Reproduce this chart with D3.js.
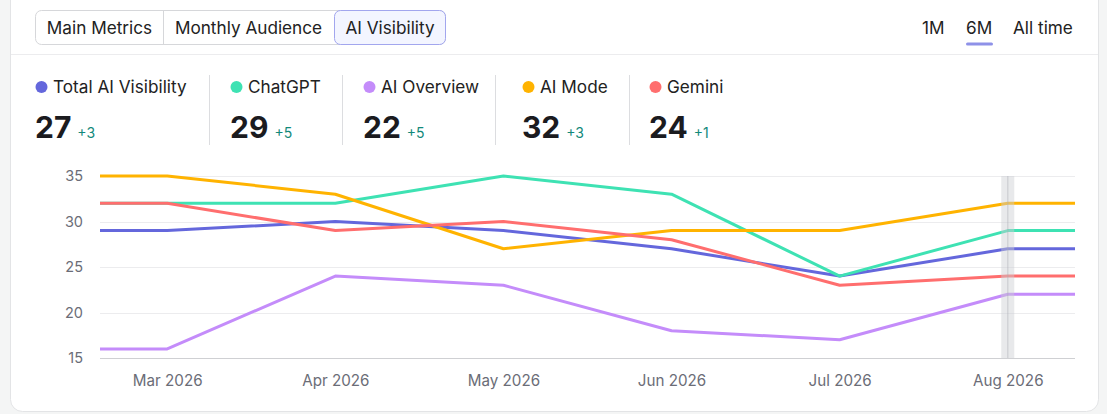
<!DOCTYPE html>
<html>
<head>
<meta charset="utf-8">
<script src="https://cdn.jsdelivr.net/npm/d3@7"></script>
<style>
  html, body { margin: 0; padding: 0; background: #f4f5f5; }
  svg { display: block; font-family: Inter, "Noto Sans", sans-serif; }
</style>
</head>
<body>
<svg id="chart" width="1107" height="414"></svg>
<script>
// ---- data ----
const tabs = ["Main Metrics", "Monthly Audience", "AI Visibility"];
const ranges = ["1M", "6M", "All time"];
const months = ["Mar 2026", "Apr 2026", "May 2026", "Jun 2026", "Jul 2026", "Aug 2026"];
const seriesNames = ["Total AI Visibility", "ChatGPT", "AI Overview", "AI Mode", "Gemini"];
const seriesColors = ["#6467dc", "#3ee2b3", "#c48cfa", "#ffb300", "#ff6e6e"];
const totalVis = [29, 30, 29, 27, 24, 27];
const chatgpt = [32, 32, 35, 33, 24, 29];
const aiOverview = [16, 24, 23, 18, 17, 22];
const aiMode = [35, 33, 27, 29, 29, 32];
const gemini = [32, 29, 30, 28, 23, 24];
const currentValues = [27, 29, 22, 32, 24];
const deltas = ["+3", "+5", "+5", "+3", "+1"];
const yTicks = [15, 20, 25, 30, 35];

const seriesValues = [totalVis, chatgpt, aiOverview, aiMode, gemini];

const svg = d3.select("#chart");

// card
svg.append("rect").attr("x", 10.5).attr("y", -12).attr("width", 1088).attr("height", 423.5)
  .attr("rx", 12).attr("fill", "#fff").attr("stroke", "#e3e4e6");

// header separator
svg.append("line").attr("x1", 11).attr("x2", 1098).attr("y1", 54.5).attr("y2", 54.5)
  .attr("stroke", "#ececee");

// segmented tabs
const tabEdges = [36, 163, 334, 446];
const tabG = svg.append("g");
tabG.append("rect").attr("x", 35.5).attr("y", 10.5).attr("width", 410).attr("height", 34)
  .attr("rx", 6).attr("fill", "#fff").attr("stroke", "#d6d7da");
tabG.append("rect").attr("x", 334.5).attr("y", 10.5).attr("width", 111).attr("height", 34)
  .attr("rx", 6).attr("fill", "#f3f5ff").attr("stroke", "#a2a6ee");
tabG.append("line").attr("x1", 163.5).attr("x2", 163.5).attr("y1", 11).attr("y2", 44).attr("stroke", "#d6d7da");
tabs.forEach((t, i) => {
  tabG.append("text").attr("x", (tabEdges[i] + tabEdges[i + 1]) / 2).attr("y", 33.5)
    .attr("text-anchor", "middle").attr("font-size", 17.2).attr("fill", "#222").text(t);
});

// range selector
const rangeX = [922, 966, 1013];
ranges.forEach((r, i) => {
  svg.append("text").attr("x", rangeX[i]).attr("y", 33.5).attr("font-size", 17.2)
    .attr("fill", "#222").text(r);
});
svg.append("rect").attr("x", 966).attr("y", 42.5).attr("width", 27).attr("height", 3)
  .attr("rx", 1.5).attr("fill", "#8e91e8");

// legend
const legX = [35, 230, 363, 522, 649];
const sepX = [209.5, 342.5, 495.5, 629.5];
sepX.forEach(x => svg.append("line").attr("x1", x).attr("x2", x).attr("y1", 75).attr("y2", 145)
  .attr("stroke", "#dcdde0"));
seriesNames.forEach((n, i) => {
  const g = svg.append("g").attr("transform", `translate(${legX[i]},0)`);
  g.append("circle").attr("cx", 6.5).attr("cy", 87).attr("r", 6).attr("fill", seriesColors[i]);
  g.append("text").attr("x", 18).attr("y", 93).attr("font-size", 17.2).attr("fill", "#222").text(n);
  const v = g.append("text").attr("x", 0).attr("y", 137.5).attr("font-size", 30)
    .attr("font-weight", 700).attr("fill", "#1b1b1f").text(currentValues[i]);
  const w = v.node().getComputedTextLength();
  g.append("text").attr("x", w + 6).attr("y", 137.5).attr("font-size", 14)
    .attr("fill", "#12897a").text(deltas[i]);
});

// scales
const x = d3.scaleLinear().domain([-0.4, months.length - 1 + 0.4]).range([100, 1075]);
const y = d3.scaleLinear().domain([15, 35]).range([358, 176]);

// grid
const grid = svg.append("g");
yTicks.forEach(t => {
  grid.append("line").attr("x1", 100).attr("x2", 1075)
    .attr("y1", Math.round(y(t)) + 0.5).attr("y2", Math.round(y(t)) + 0.5)
    .attr("stroke", t === 15 ? "#cfd0d3" : "#ececee").attr("stroke-width", t === 15 ? 1.2 : 1);
});

// y axis labels
const yAxis = d3.axisLeft(y).tickValues(yTicks).tickSize(0).tickPadding(0);
const yg = svg.append("g").attr("transform", "translate(83,0)").call(yAxis);
yg.select(".domain").remove();
yg.selectAll("text").attr("font-size", 14.5).attr("fill", "#6b6d77").attr("font-family", "Inter, sans-serif");

// x axis labels
const xAxis = d3.axisBottom(x).tickValues(d3.range(months.length)).tickFormat(i => months[i])
  .tickSize(0).tickPadding(0);
const xg = svg.append("g").attr("transform", "translate(0,375)").call(xAxis);
xg.select(".domain").remove();
xg.selectAll("text").attr("font-size", 15.2).attr("fill", "#6b6d77").attr("font-family", "Inter, sans-serif");

// lines
const line = d3.line().x(d => x(d[0])).y(d => y(d[1]));
seriesValues.forEach((vals, i) => {
  const pts = vals.map((v, j) => [j, v]);
  pts.unshift([x.domain()[0], vals[0]]);
  pts.push([x.domain()[1], vals[vals.length - 1]]);
  svg.append("path").attr("d", line(pts)).attr("fill", "none")
    .attr("stroke", seriesColors[i]).attr("stroke-width", 3)
    .attr("stroke-linejoin", "round");
});

// hover band at last month
const hx = x(months.length - 1);
svg.append("rect").attr("x", hx - 6.5).attr("y", y(35)).attr("width", 13).attr("height", y(15) - y(35))
  .attr("fill", "rgba(205,207,211,0.45)");
svg.append("line").attr("x1", hx).attr("x2", hx).attr("y1", y(35)).attr("y2", y(15))
  .attr("stroke", "rgba(170,172,178,0.35)").attr("stroke-width", 1.5);
</script>
</body>
</html>
